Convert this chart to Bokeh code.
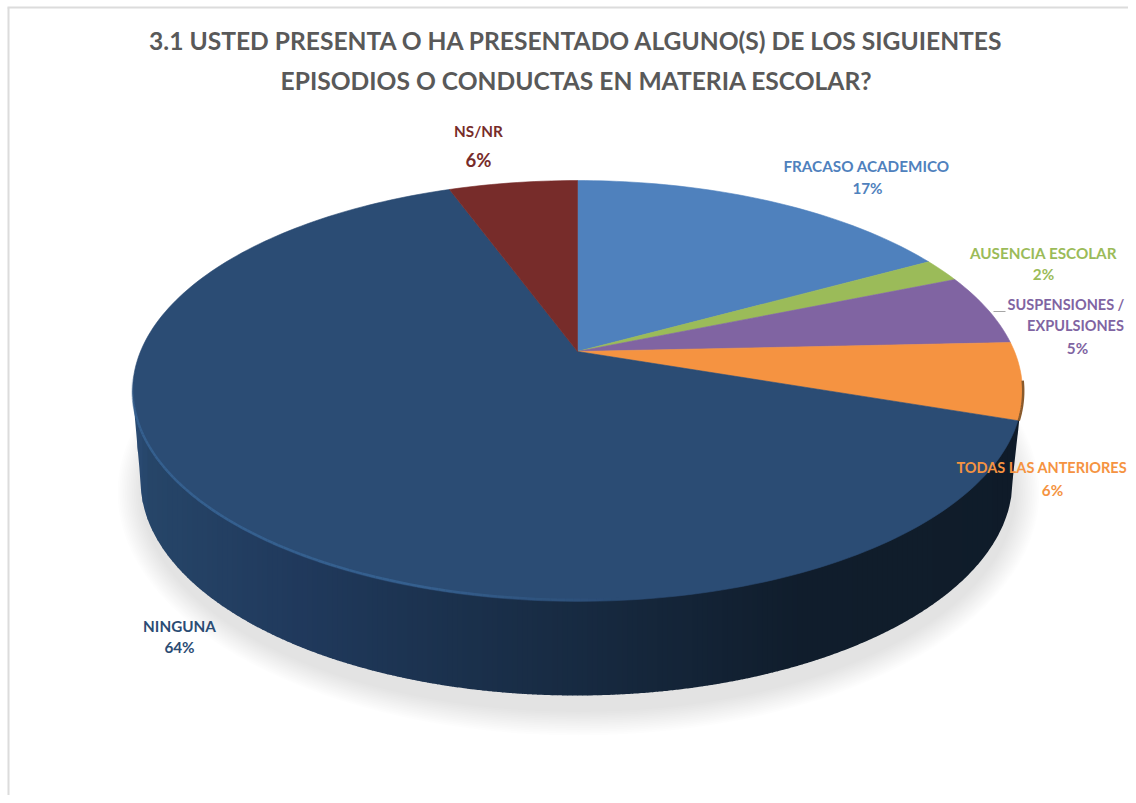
import numpy as np
from bokeh.plotting import figure
from bokeh.models import Range1d
from bokeh.core.properties import value
from bokeh.embed import file_html
from bokeh.resources import INLINE

# ---- data ----
categories = ["FRACASO ACADEMICO", "AUSENCIA ESCOLAR", "SUSPENSIONES /\nEXPULSIONES",
              "TODAS LAS ANTERIORES", "NINGUNA", "NS/NR"]
values = [17.0, 1.8, 5.49, 5.9, 64.21, 5.6]
colors = ["#4F81BD", "#9BBB59", "#8064A2", "#F59341", "#2B4C74", "#772C2A"]
title_lines = ["3.1 USTED PRESENTA O HA PRESENTADO ALGUNO(S) DE LOS SIGUIENTES",
               "EPISODIOS O CONDUCTAS EN MATERIA ESCOLAR?"]

# ---- layout ----
W, H = 1128, 795
FONT = "Lato"
APEX_X, APEX_Y = 577, 351
K, A, B = 0.1876, 437.0, 203.0           # perspective of the pie's top face
TOP_C = (577, 390.5); TOP_R = (445, 210.5)
BOT_C = (576, 480.0); BOT_R = (436, 215.0)

p = figure(width=W, height=H, output_backend="svg", toolbar_location=None,
           x_range=Range1d(0, W), y_range=Range1d(H, 0),
           min_border=0, min_border_left=0, min_border_right=0, min_border_top=0, min_border_bottom=0,
           outline_line_color=None, background_fill_color="white", border_fill_color="white")
p.axis.visible = False
p.grid.visible = False


def project(theta):
    X, Y = np.sin(theta), np.cos(theta)
    d = 1 + K * Y
    return APEX_X + A * X / d, APEX_Y - B * Y / d


def hex2rgb(h):
    return np.array([int(h[i:i + 2], 16) for i in (1, 3, 5)], float)


def rgb2hex(c):
    return "#%02x%02x%02x" % tuple(int(round(v)) for v in c)


# chart frame (left and top only reach the visible page)
p.segment([8, 7], [7, 7], [8, W], [H, 7], line_color="#dcdcdc", line_width=2)

# soft shadow
for i in range(14):
    grow = 25 * (1 - i / 14)
    p.ellipse(x=[578], y=[492], width=[2 * (436 + grow)], height=[2 * (218 + grow)],
              fill_color="black", fill_alpha=0.008, line_color=None)

# side wall: vertical strips between top-face rim and lower rim
stops_x = [131, 150, 300, 380, 580, 800, 900, 1022]
stops_c = ["#2b4d76", "#264568", "#20395c", "#1d3554", "#172a41", "#101d2c", "#101d2b", "#0f1b29"]
stops_rgb = np.array([hex2rgb(c) for c in stops_c])


def top_low(x):
    u = np.clip((x - TOP_C[0]) / TOP_R[0], -1, 1)
    return TOP_C[1] + TOP_R[1] * np.sqrt(1 - u ** 2)


def bot_low(x):
    left, right = BOT_C[0] - BOT_R[0], BOT_C[0] + BOT_R[0]
    xl, xr = TOP_C[0] - TOP_R[0], TOP_C[0] + TOP_R[0]
    if x < left:
        return TOP_C[1] + (x - xl) / (left - xl) * (BOT_C[1] - TOP_C[1])
    if x > right:
        return TOP_C[1] + (xr - x) / (xr - right) * (BOT_C[1] - TOP_C[1])
    u = (x - BOT_C[0]) / BOT_R[0]
    return BOT_C[1] + BOT_R[1] * np.sqrt(max(0, 1 - u ** 2))


edges = np.concatenate([np.arange(132, 1022, 5), [1022]])
xs, ys, cs = [], [], []
for x0, x1 in zip(edges[:-1], edges[1:]):
    sub = np.linspace(x0, x1 + 0.6, 4)
    xs.append(list(sub) + list(sub[::-1]))
    ys.append([top_low(v) - 3 for v in sub] + [bot_low(v) for v in sub[::-1]])
    mid = (x0 + x1) / 2
    cs.append(rgb2hex([np.interp(mid, stops_x, stops_rgb[:, j]) for j in range(3)]))
p.patches(xs, ys, fill_color=cs, line_color=None)

# top face: sectors driven by the values
fr = np.cumsum([0] + values) / sum(values)
sx, sy = [], []
for a0, a1 in zip(fr[:-1], fr[1:]):
    th = np.linspace(a0, a1, max(6, int((a1 - a0) * 300))) * 2 * np.pi
    ex, ey = project(th)
    sx.append([APEX_X] + list(ex))
    sy.append([APEX_Y] + list(ey))
p.patches(sx, sy, fill_color=colors, line_color=colors, line_width=0.6)

# rim of the orange slice, seen on the right
idx = 3
th = np.linspace(np.pi * 0.5 + 0.14, fr[idx + 1] * 2 * np.pi, 16)
ex, ey = project(th)
p.line(ex + 0.8, ey, line_color="#8a5a2c", line_width=2.5)

# bevel highlight along the front-left rim
th = np.linspace(3.05, 4.6, 110)
ex, ey = project(th)
t = np.linspace(0, 1, len(ex) - 1)
p.multi_line([[ex[i], ex[i + 1]] for i in range(len(ex) - 1)],
             [[ey[i] - 1.5, ey[i + 1] - 1.5] for i in range(len(ex) - 1)],
             line_color="#3a6798", line_alpha=list(0.75 * np.minimum(1, t * 4) * np.minimum(1, (1 - t) * 8)),
             line_width=2.5)

# leader line
p.line([993, 1005], [311, 311], line_color="#a6a6a6", line_width=1)

# title
for txt, y in zip(title_lines, [40, 80]):
    p.text([576], [y], text=[txt], text_font=value(FONT), text_font_style="bold",
           text_font_size="24.6px", text_color="#595959", text_align="center", text_baseline="middle")

# data labels
pcts = [f"{round(v)}%" for v in values]
placements = [
    [(866, 165, "center", 15.25), (867, 187, "center", 15.25)],
    [(1043, 252, "center", 15.25), (1043, 273, "center", 15.25)],
    [(1007, 304, "left", 14.5), (1075, 325, "center", 14.5), (1077, 347, "center", 15.25)],
    [(956, 467, "left", 14.5), (1052, 489, "center", 15.25)],
    [(179, 625, "center", 15.25), (179, 646, "center", 15.25)],
    [(478, 130, "center", 15.25), (478, 159, "center", 18.5)],
]
for cat, pct, col, place in zip(categories, pcts, colors, placements):
    lines = cat.split("\n") + [pct]
    for s, (x, y, al, fs) in zip(lines, place):
        p.text([x], [y], text=[s], text_font=value(FONT), text_font_style="bold",
               text_font_size=f"{fs}px", text_color=col, text_align=al, text_baseline="middle")

open("out.html", "w").write(file_html(p, INLINE))
